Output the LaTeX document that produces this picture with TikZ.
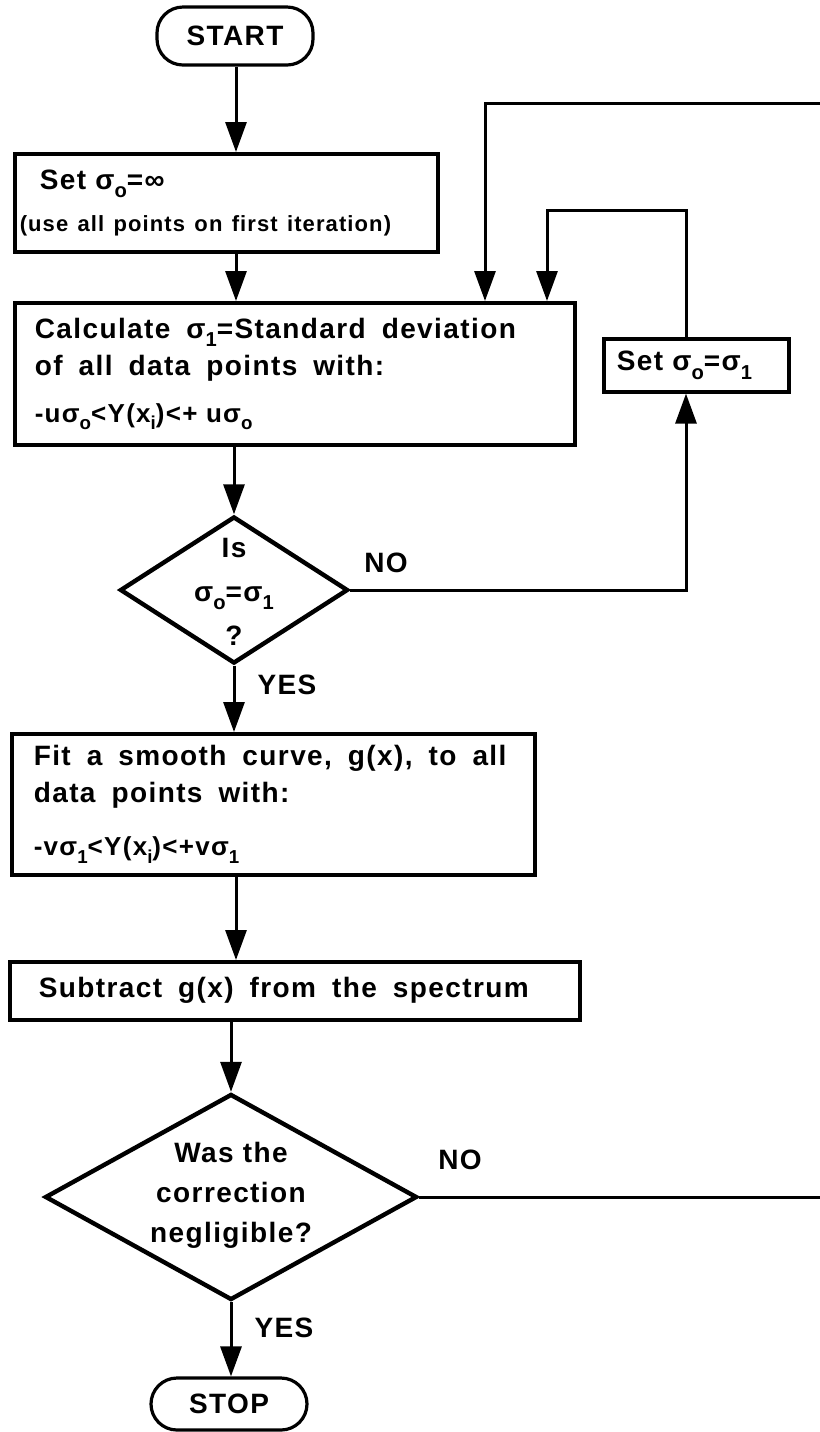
\documentclass[tikz,border=0pt]{standalone}
\usepackage{fontspec}
\usepackage{graphicx}
\setmainfont{Liberation Sans}[LetterSpace=5]
\usetikzlibrary{arrows.meta,shapes.geometric}
\newcommand\widesp{\spaceskip=8pt\relax}
\newcommand\normsp{\spaceskip=0pt\relax}
\newcommand\lowsub[1]{\raisebox{-0.55ex}{\scalebox{0.72}{#1}}}
\begin{document}
\begin{tikzpicture}[x=0.5pt,y=-0.5pt,
  every node/.style={font=\fontsize{14}{18.5}\selectfont\bfseries},
  box/.style={draw, line width=1.8pt, rectangle, anchor=north west, inner ysep=0pt, align=left},
  term/.style={draw, line width=1.6pt, rounded corners=13pt, minimum width=78pt, minimum height=29pt, inner sep=0pt},
  dia/.style={draw, diamond, line width=2.2pt, inner sep=0pt},
  conn/.style={line width=1.5pt, -{Triangle[length=15pt,width=10.5pt]}},
  lab/.style={inner sep=0pt}]
\fill[white] (0,0) rectangle (820,1432);
\useasboundingbox (0,0) rectangle (820,1432);

\node[term] (start) at (235,36) {START};
\node[box, text width=206.5pt, inner xsep=2.5pt, minimum height=49pt,
  font=\fontsize{14}{18}\selectfont\bfseries] (set0) at (13,152)
  {\hspace*{10pt}Set σ\lowsub{o}=∞\\[3pt]{\fontsize{11}{14}\selectfont (use all points on first iteration)}};
\node[box, text width=260pt, inner xsep=10pt, minimum height=71pt] (calc) at (13,301)
  {\widesp Calculate σ\lowsub{1}=Standard deviation\\of all data points with:\\[5pt]{\fontsize{13}{14}\selectfont\normsp -uσ\lowsub{o}<Y(x\lowsub{i})<+ uσ\lowsub{o}}};
\node[box, text width=79.5pt, inner xsep=6.5pt, minimum height=26.5pt] (setb) at (602,337)
  {Set σ\lowsub{o}=σ\lowsub{1}};
\node[box, text width=239.5pt, inner xsep=11pt, minimum height=70.5pt] (fit) at (10,732)
  {\widesp Fit a smooth curve, g(x), to all\\data points with:\\[8pt]{\fontsize{13}{14}\selectfont\normsp -vσ\lowsub{1}<Y(x\lowsub{i})<+vσ\lowsub{1}}};
\node[box, text width=256pt, inner xsep=14.5pt, minimum height=29pt] (sub) at (8,960)
  {\widesp Subtract g(x) from the spectrum};

\node[dia, minimum width=114pt, minimum height=73.5pt] (d1) at (234,590) {};
\node[lab, align=center, font=\fontsize{14}{22}\selectfont\bfseries] (d1t) at (234,592)
  {Is\\σ\lowsub{o}=σ\lowsub{1}\\?};
\node[dia, minimum width=186pt, minimum height=103pt] (d2) at (231,1197) {};
\node[lab, align=center, font=\fontsize{14}{20}\selectfont\bfseries] (d2t) at (231,1195)
  {Was the\\correction\\negligible?};
\node[term, minimum height=26pt] (stop) at (229,1404) {STOP};

\node[lab] (no1) at (386,563) {NO};
\node[lab] (yes1) at (287,685) {YES};
\node[lab] (no2) at (460,1160) {NO};
\node[lab] (yes2) at (284,1328) {YES};

\coordinate (ax) at (236,0);
\coordinate (l1) at (485,103);
\coordinate (rr) at (834,103);
\coordinate (l2) at (686,210);
\coordinate (l2b) at (547,210);

\draw[conn] (ax |- start.south) -- (ax |- set0.north);
\draw[conn] (ax |- set0.south) -- (ax |- calc.north);
\draw[conn] (d1.north |- calc.south) -- (d1.north);
\draw[conn] (d1.south) -- (d1.south |- fit.north);
\draw[conn] (ax |- fit.south) -- (ax |- sub.north);
\draw[conn] (d2.north |- sub.south) -- (d2.north);
\draw[conn] (d2.south) -- (d2.south |- stop.north);
\draw[conn] (d1.east) -- (d1.east -| l2) -- (l2 |- setb.south);
\draw[conn] (l2 |- setb.north) -- (l2) -- (l2b) -- (l2b |- calc.north);
\draw[conn] (d2.east) -- (d2.east -| rr) -- (rr) -- (l1) -- (l1 |- calc.north);
\end{tikzpicture}
\end{document}
